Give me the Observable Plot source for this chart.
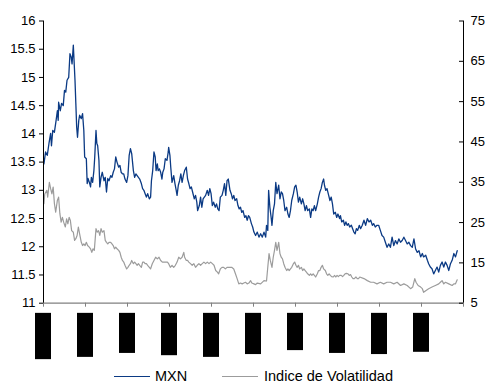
<!DOCTYPE html>
<html>
<head>
<meta charset="utf-8">
<script src="https://cdn.jsdelivr.net/npm/d3@7"></script>
<script src="https://cdn.jsdelivr.net/npm/@observablehq/plot@0.6"></script>
<style>
  html, body { margin: 0; padding: 0; background: #fff; }
  body { font-family: "Liberation Sans", Arial, sans-serif; }
  #chart { position: relative; width: 487px; height: 383px; overflow: hidden; }
  #legend { position: absolute; left: 0; top: 366px; width: 487px; height: 20px; font-size: 14.5px; color: #000; }
  .sw { position: absolute; top: 9.5px; height: 0; border-top: 1.5px solid; width: 36px; }
  .lbl { position: absolute; top: 0; line-height: 20px; white-space: nowrap; }
</style>
</head>
<body>
<div id="chart"><div id="legend"></div></div>
<script>
// ---- data (x = position on the date axis, 0..10 between the 11 axis ticks) ----
const mxnT = [0.01,0.05,0.09,0.13,0.17,0.19,0.22,0.26,0.30,0.33,0.35,0.36,0.40,0.43,0.47,0.50,0.53,0.56,0.60,0.63,0.66,0.68,0.71,0.72,0.75,0.77,0.79,0.81,0.84,0.86,0.90,0.93,0.96,0.98,1.02,1.04,1.06,1.10,1.12,1.14,1.17,1.20,1.22,1.25,1.27,1.29,1.32,1.34,1.37,1.40,1.44,1.47,1.50,1.53,1.56,1.60,1.63,1.66,1.69,1.72,1.75,1.79,1.82,1.85,1.88,1.91,1.94,1.98,2.01,2.04,2.07,2.10,2.14,2.17,2.20,2.23,2.26,2.29,2.33,2.36,2.39,2.42,2.45,2.48,2.52,2.55,2.57,2.60,2.63,2.66,2.68,2.71,2.73,2.76,2.79,2.82,2.84,2.87,2.90,2.94,2.97,2.98,3.01,3.03,3.06,3.10,3.13,3.16,3.18,3.21,3.24,3.27,3.30,3.33,3.36,3.40,3.43,3.46,3.49,3.52,3.55,3.59,3.62,3.65,3.67,3.71,3.74,3.77,3.80,3.83,3.86,3.90,3.93,3.96,3.99,4.02,4.05,4.09,4.12,4.15,4.18,4.21,4.25,4.28,4.31,4.34,4.37,4.40,4.44,4.47,4.50,4.53,4.56,4.60,4.63,4.66,4.69,4.72,4.75,4.79,4.82,4.85,4.88,4.91,4.95,4.98,5.01,5.05,5.09,5.13,5.17,5.21,5.25,5.29,5.31,5.34,5.36,5.39,5.42,5.44,5.47,5.50,5.53,5.56,5.60,5.63,5.66,5.69,5.72,5.75,5.79,5.82,5.85,5.88,5.91,5.95,5.98,6.01,6.04,6.07,6.10,6.14,6.17,6.20,6.23,6.26,6.29,6.33,6.36,6.39,6.42,6.45,6.48,6.52,6.55,6.58,6.61,6.64,6.67,6.69,6.72,6.75,6.79,6.82,6.85,6.88,6.91,6.95,6.98,7.01,7.05,7.07,7.10,7.14,7.17,7.20,7.23,7.26,7.29,7.33,7.36,7.39,7.42,7.45,7.48,7.52,7.55,7.59,7.63,7.67,7.71,7.75,7.79,7.83,7.86,7.90,7.94,7.98,8.02,8.06,8.10,8.14,8.18,8.22,8.26,8.30,8.34,8.38,8.42,8.46,8.50,8.54,8.58,8.62,8.66,8.70,8.74,8.78,8.82,8.86,8.90,8.94,8.98,9.02,9.05,9.10,9.14,9.17,9.21,9.25,9.29,9.33,9.37,9.41,9.45,9.49,9.53,9.57,9.61,9.65,9.69,9.73,9.77,9.81,9.85];
const mxnVal = [13.47,13.68,13.62,13.83,14.01,13.79,14.06,14.03,14.24,14.41,14.24,14.56,14.41,14.54,14.50,14.77,14.74,14.95,15.00,15.42,15.36,15.24,15.57,15.42,14.95,14.54,14.12,13.94,14.24,14.33,14.27,14.36,14.06,13.59,13.56,13.12,13.21,13.12,13.06,13.23,13.14,13.35,13.59,14.06,13.83,13.79,13.53,13.06,13.23,13.32,13.17,13.23,12.97,13.21,13.17,13.26,13.23,13.32,13.38,13.59,13.50,13.41,13.44,13.32,13.29,13.29,13.20,13.14,13.26,13.62,13.74,13.65,13.35,13.23,13.29,13.26,13.23,13.20,13.12,13.03,13.00,12.94,12.88,12.94,12.85,12.88,13.17,13.35,13.68,13.59,13.35,13.47,13.35,13.38,13.32,13.20,13.32,13.38,13.56,13.53,13.68,13.76,13.62,13.41,13.14,13.26,13.12,13.00,12.91,13.09,13.17,13.29,13.14,13.26,13.35,13.41,13.20,13.12,13.03,13.06,12.97,12.85,12.91,12.79,12.64,12.73,12.88,12.70,12.85,12.88,12.91,13.00,12.91,13.03,12.94,12.73,12.79,12.70,12.76,12.67,12.64,12.88,12.91,13.00,13.12,12.91,13.17,13.20,13.00,12.94,12.85,12.91,12.82,12.85,12.73,12.67,12.70,12.61,12.64,12.52,12.55,12.47,12.55,12.52,12.41,12.35,12.26,12.20,12.26,12.17,12.23,12.17,12.26,12.17,12.38,12.29,13.00,12.70,12.52,12.38,12.64,12.76,13.14,12.94,13.09,12.85,12.97,12.94,12.82,12.64,12.70,12.58,12.52,12.64,12.82,12.94,13.06,13.09,12.97,12.79,12.88,12.76,12.85,12.76,12.64,12.73,12.64,12.67,12.52,12.67,12.64,12.73,12.64,12.76,12.88,12.97,13.03,13.14,13.20,13.09,13.00,13.03,12.91,12.82,12.88,12.76,12.58,12.61,12.52,12.58,12.50,12.55,12.44,12.47,12.38,12.44,12.38,12.41,12.35,12.38,12.32,12.26,12.23,12.32,12.29,12.38,12.32,12.38,12.47,12.38,12.50,12.44,12.47,12.38,12.41,12.35,12.38,12.38,12.29,12.20,12.17,12.08,11.99,12.05,11.99,12.17,12.02,12.11,12.05,12.14,12.08,12.11,12.17,12.11,12.05,12.08,12.02,11.99,12.14,11.96,11.90,11.93,11.82,11.88,11.82,11.85,11.76,11.70,11.64,11.61,11.52,11.58,11.64,11.55,11.67,11.73,11.64,11.73,11.67,11.58,11.70,11.76,11.88,11.82,11.93];

const volT = [0.01,0.03,0.08,0.10,0.14,0.17,0.20,0.23,0.26,0.29,0.33,0.36,0.39,0.42,0.45,0.48,0.52,0.55,0.58,0.61,0.64,0.67,0.71,0.74,0.77,0.80,0.83,0.86,0.90,0.93,0.96,0.99,1.02,1.05,1.09,1.12,1.15,1.18,1.21,1.25,1.28,1.31,1.34,1.37,1.40,1.44,1.47,1.50,1.53,1.56,1.60,1.63,1.66,1.69,1.72,1.75,1.79,1.82,1.85,1.88,1.91,1.94,1.98,2.01,2.04,2.07,2.10,2.14,2.17,2.20,2.23,2.26,2.29,2.33,2.36,2.39,2.42,2.45,2.48,2.52,2.55,2.59,2.63,2.67,2.71,2.75,2.79,2.83,2.86,2.90,2.95,2.98,3.02,3.06,3.10,3.14,3.18,3.22,3.26,3.30,3.34,3.36,3.40,3.43,3.46,3.50,3.54,3.58,3.62,3.66,3.70,3.74,3.78,3.82,3.86,3.90,3.94,3.98,4.02,4.06,4.10,4.14,4.17,4.21,4.25,4.29,4.33,4.37,4.41,4.45,4.48,4.53,4.57,4.61,4.65,4.69,4.73,4.77,4.81,4.85,4.89,4.93,4.96,5.01,5.05,5.09,5.17,5.25,5.31,5.34,5.37,5.40,5.44,5.47,5.50,5.53,5.56,5.60,5.63,5.66,5.69,5.72,5.75,5.79,5.82,5.85,5.88,5.91,5.95,5.98,6.01,6.04,6.07,6.10,6.14,6.17,6.20,6.23,6.26,6.29,6.33,6.36,6.39,6.42,6.45,6.48,6.52,6.55,6.58,6.61,6.64,6.67,6.71,6.74,6.77,6.80,6.83,6.86,6.90,6.93,6.96,6.99,7.02,7.05,7.09,7.12,7.15,7.18,7.21,7.25,7.28,7.31,7.34,7.37,7.40,7.44,7.47,7.50,7.53,7.63,7.71,7.79,7.86,7.94,8.02,8.10,8.18,8.26,8.34,8.42,8.50,8.58,8.66,8.74,8.79,8.84,8.87,8.92,8.98,9.02,9.05,9.10,9.17,9.25,9.33,9.41,9.45,9.49,9.53,9.57,9.65,9.73,9.77,9.81,9.85];
const volVal = [29.7,32.1,33.0,31.3,35.0,33.4,32.1,33.8,29.7,27.6,30.5,31.3,27.2,25.1,26.3,25.1,23.9,25.9,24.7,26.3,25.5,23.0,22.6,20.6,21.0,21.8,23.9,22.2,20.1,19.3,19.7,19.3,20.1,19.3,18.9,18.5,17.6,18.5,18.1,23.5,22.6,23.0,21.8,23.5,22.6,23.0,20.6,20.1,19.7,20.1,20.1,19.7,19.3,18.5,18.9,18.5,18.1,17.6,16.4,15.6,15.2,14.4,13.5,13.9,14.4,14.8,15.6,14.8,15.2,14.8,14.4,14.8,14.4,13.9,15.2,15.2,14.8,14.8,14.4,13.9,13.5,14.8,15.6,16.4,16.0,16.4,15.6,15.2,15.2,15.2,15.2,14.8,13.9,14.4,13.9,14.4,15.2,16.4,16.0,16.4,17.6,16.4,15.6,15.6,15.2,14.8,14.4,14.8,13.9,14.4,14.8,14.4,14.8,15.2,14.8,15.2,14.8,15.2,14.8,14.4,13.1,12.7,12.3,13.5,13.9,13.9,13.5,13.9,13.9,13.9,13.9,13.5,12.3,11.1,9.8,10.0,9.8,10.0,10.2,9.8,10.0,10.6,10.0,9.8,9.6,10.0,9.8,10.6,10.5,13.9,17.3,15.6,13.9,16.4,18.1,20.1,18.1,20.1,17.3,16.4,16.0,14.8,13.9,13.1,13.5,13.1,13.5,13.9,14.8,15.2,14.4,13.9,14.4,13.5,13.9,13.1,13.5,13.1,12.7,12.3,11.9,12.3,11.9,12.3,11.9,11.5,12.3,13.1,13.1,13.9,14.4,13.5,13.1,12.3,11.9,12.3,11.9,11.6,11.5,11.9,11.5,11.9,11.6,11.9,11.9,11.6,11.9,12.3,12.4,12.3,11.9,12.1,11.5,11.1,11.1,11.5,11.1,11.1,11.5,11.1,10.6,10.2,10.2,9.8,10.2,9.8,10.2,10.2,9.8,10.2,9.4,9.8,9.4,8.6,9.0,11.1,10.2,9.4,9.0,8.6,7.7,8.1,8.6,9.0,9.4,9.8,10.2,10.6,9.8,10.2,9.8,9.4,9.8,9.8,10.8];

const leftTicks = [11, 11.5, 12, 12.5, 13, 13.5, 14, 14.5, 15, 15.5, 16];
const rightTicks = [5, 15, 25, 35, 45, 55, 65, 75];
const xTicks = [0, 1, 2, 3, 4, 5, 6, 7, 8, 9, 10];
// date tick labels are blacked out in the source; one redaction block per label
const redactedSlots = [0, 1, 2, 3, 4, 5, 6, 7, 8, 9];
const redactedDepth = [10.00, 10.04, 10.11, 10.07, 10.04, 10.09, 10.16, 10.11, 10.09, 10.13];
const seriesNames = ["MXN", "Indice de Volatilidad"];
const seriesColors = ["#0b3a84", "#9c9c9c"];

// right axis (5..75) mapped onto left axis (11..16)
const toLeft = v => 11 + (v - 5) * 5 / 70;
const toRight = v => Math.round(5 + (v - 11) * 70 / 5);

const mxn = mxnT.map((t, i) => ({t, v: mxnVal[i]}));
const vol = volT.map((t, i) => ({t, v: toLeft(volVal[i])}));
const boxes = redactedSlots.map((t, i) => ({t, bottom: redactedDepth[i]}));

const chart = Plot.plot({
  width: 487,
  height: 366,
  marginLeft: 43,
  marginRight: 24,
  marginTop: 20.5,
  marginBottom: 63.3,
  style: {fontSize: "13px", fontFamily: "'Liberation Sans', Arial, sans-serif", color: "#000", background: "#fff", overflow: "visible"},
  x: {domain: [0, 10], label: null, axis: null},
  y: {domain: [11, 16], label: null},
  marks: [
    Plot.line(vol, {x: "t", y: "v", stroke: seriesColors[1], strokeWidth: 1.2}),
    Plot.line(mxn, {x: "t", y: "v", stroke: seriesColors[0], strokeWidth: 1.3}),
    Plot.ruleY([11], {stroke: "#808080", strokeWidth: 1.2}),
    Plot.ruleX(xTicks, {x: d => d, y1: 11, y2: 11, insetBottom: -4, stroke: "#808080"}),
    Plot.ruleX([0], {stroke: "#000"}),
    Plot.ruleX([10], {stroke: "#000"}),
    Plot.axisY({anchor: "left", ticks: leftTicks, tickSize: 4, tickPadding: 4, label: null, tickFormat: d => String(d)}),
    Plot.axisY({anchor: "right", ticks: rightTicks.map(toLeft), tickSize: 0, tickPadding: 7, label: null, tickFormat: d => String(toRight(d))}),
    Plot.ruleY(rightTicks.map(toLeft), {y: d => d, x1: 10, x2: 10, insetLeft: -4, stroke: "#000"}),
    Plot.rect(boxes, {x1: "t", x2: "t", y1: 10.82, y2: "bottom", insetLeft: -8, insetRight: -8, fill: "#000"})
  ]
});
const root = document.getElementById("chart");
root.insertBefore(chart, root.firstChild);

// legend below the chart
const legend = document.getElementById("legend");
const legendPos = [[114, 155], [222, 264]];
seriesNames.forEach((name, i) => {
  const sw = document.createElement("span");
  sw.className = "sw";
  sw.style.left = legendPos[i][0] + "px";
  sw.style.borderTopColor = seriesColors[i];
  legend.appendChild(sw);
  const lb = document.createElement("span");
  lb.className = "lbl";
  lb.style.left = legendPos[i][1] + "px";
  lb.textContent = name;
  legend.appendChild(lb);
});
</script>
</body>
</html>
